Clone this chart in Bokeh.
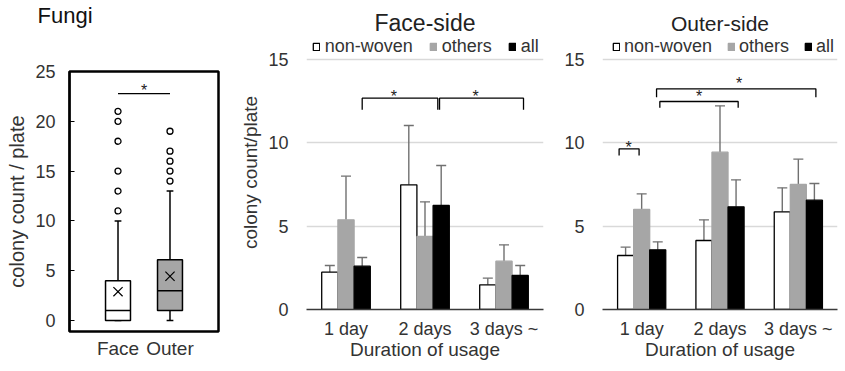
from bokeh.plotting import figure
from bokeh.layouts import row
from bokeh.models import (ColumnDataSource, FixedTicker, Range1d, Legend, LegendItem,
                          Whisker, TeeHead, Title)
from bokeh.embed import file_html
from bokeh.resources import INLINE
from bokeh.core.properties import value

FONT = "Liberation Sans"
TXT = "#333333"
GRAY = "#A6A6A6"
H = 371

# ---------------- data ----------------
# Fungi box plot (colony count / plate)
box_groups = ["Face", "Outer"]
box_pos = [1, 2]
box_low = [0, 0]
box_q1 = [0, 1]
box_median = [1, 3]
box_q3 = [4, 6.1]
box_high = [10, 13]
box_mean = [2.9, 4.45]
face_outliers = [11, 13, 15, 18, 20, 21]
outer_outliers = [14, 15, 16, 17, 19]
box_ticks = [0, 5, 10, 15, 20, 25]

# Bar charts: mean colony count/plate with upper SD
durations = ["1 day", "2 days", "3 days ~"]
materials = ["non-woven", "others", "all"]
bar_ticks = [0, 5, 10, 15]

face_nonwoven = [2.24, 7.48, 1.48]
face_nonwoven_sd = [0.40, 3.56, 0.40]
face_others = [5.38, 4.38, 2.90]
face_others_sd = [2.62, 2.08, 0.98]
face_all = [2.60, 6.24, 2.04]
face_all_sd = [0.52, 2.40, 0.60]

outer_nonwoven = [3.24, 4.14, 5.86]
outer_nonwoven_sd = [0.50, 1.24, 1.44]
outer_others = [6.00, 9.44, 7.50]
outer_others_sd = [0.94, 2.78, 1.52]
outer_all = [3.58, 6.16, 6.56]
outer_all_sd = [0.48, 1.62, 1.00]

# significance brackets: x left, x right, top y, leg end y ; star position
face_br_x0 = [0.705, 1.684]
face_br_x1 = [1.662, 2.747]
face_br_top = [12.68, 12.68]
face_br_leg = [11.98, 11.98]
face_star_x = [1.105, 2.14]
face_star_y = [13.04, 13.04]

outer_br_x0 = [0.212, 0.732, 0.69]
outer_br_x1 = [0.467, 1.732, 2.724]
outer_br_top = [9.64, 12.48, 13.24]
outer_br_leg = [9.24, 12.10, 12.74]
outer_star_x = [0.332, 1.234, 1.745]
outer_star_y = [9.98, 13.0, 13.78]

box_sig_x = [1, 2]
box_sig_y = 22.77
box_star_y = 23.5


def no_align(p):
    try:
        p.frame_align = False
    except Exception:
        pass


# ---------------- box plot ----------------
p1 = figure(width=222, height=H, x_range=Range1d(0.067, 2.933), y_range=Range1d(-1.1, 25),
            output_backend="svg", toolbar_location=None, title=None,
            min_border_left=69, min_border_right=4, min_border_top=67, min_border_bottom=H - 331)
no_align(p1)
p1.outline_line_color = "black"
p1.outline_line_width = 2.5
p1.grid.visible = False

bw = 0.48
bsrc = ColumnDataSource(dict(x=box_pos, q1=box_q1, q3=box_q3, med=box_median, lo=box_low,
                             hi=box_high, mean=box_mean, fill=["white", GRAY],
                             xl=[v - bw / 2 for v in box_pos], xr=[v + bw / 2 for v in box_pos],
                             cl=[v - 0.065 for v in box_pos], cr=[v + 0.065 for v in box_pos]))
p1.segment(x0="x", x1="x", y0="q3", y1="hi", source=bsrc, line_color="black", line_width=1.5)
p1.segment(x0="x", x1="x", y0="lo", y1="q1", source=bsrc, line_color="black", line_width=1.5)
p1.segment(x0="cl", x1="cr", y0="hi", y1="hi", source=bsrc, line_color="black", line_width=1.5)
p1.segment(x0="cl", x1="cr", y0="lo", y1="lo", source=bsrc, line_color="black", line_width=1.5)
p1.vbar(x="x", bottom="q1", top="q3", width=bw, fill_color="fill", line_color="black",
        line_width=1.5, source=bsrc)
p1.segment(x0="xl", x1="xr", y0="med", y1="med", source=bsrc, line_color="black", line_width=1.5)
p1.scatter(x="x", y="mean", source=bsrc, marker="x", size=13, line_color="black", line_width=1.2)
p1.scatter(x=[box_pos[0]] * len(face_outliers), y=face_outliers, marker="circle", size=6,
           fill_color="white", line_color="black", line_width=1.3)
p1.scatter(x=[box_pos[1]] * len(outer_outliers), y=outer_outliers, marker="circle", size=6,
           fill_color="white", line_color="black", line_width=1.3)
p1.segment(x0=[box_sig_x[0]], x1=[box_sig_x[1]], y0=[box_sig_y], y1=[box_sig_y],
           line_color="black", line_width=1.3)
p1.text(x=[sum(box_sig_x) / 2], y=[box_star_y], text=["*"], text_align="center",
        text_baseline="middle", y_offset=4, text_font=value(FONT), text_font_size="16px",
        text_color="#222222")

p1.yaxis.ticker = FixedTicker(ticks=box_ticks)
p1.yaxis.major_tick_in = 5
p1.yaxis.major_tick_out = 0
p1.yaxis.minor_tick_line_color = None
p1.yaxis.axis_line_color = "black"
p1.yaxis.axis_line_width = 2
p1.yaxis.major_label_standoff = 14
p1.yaxis.axis_label = "colony count / plate"
p1.yaxis.axis_label_standoff = 4
p1.xaxis.ticker = FixedTicker(ticks=box_pos)
p1.xaxis.major_label_overrides = {box_pos[i]: box_groups[i] for i in range(2)}
p1.xaxis.major_tick_in = 0
p1.xaxis.major_tick_out = 0
p1.xaxis.minor_tick_line_color = None
p1.xaxis.axis_line_color = None
p1.xaxis.major_label_standoff = 6
for ax in [p1.xaxis, p1.yaxis]:
    ax.major_label_text_font = FONT
    ax.major_label_text_color = TXT
    ax.axis_label_text_font = FONT
    ax.axis_label_text_font_style = "normal"
    ax.axis_label_text_color = TXT
p1.yaxis.major_label_text_font_size = "18px"
p1.xaxis.major_label_text_font_size = "19px"
p1.yaxis.axis_label_text_font_size = "20px"

# spacer (closest to the frame) then the panel heading above it
p1.add_layout(Title(text=" ", text_font_size="12px", standoff=28), "above")
p1.add_layout(Title(text="Fungi", align="left", offset=-32, standoff=0, text_font=FONT,
                    text_font_size="22px", text_font_style="normal", text_color="#111111"),
              "above")


# ---------------- bar panels ----------------
def bar_panel(title, title_size, title_standoff, means, sds, width, left, right, ylabel,
              legend_x, legend_spacing, legend_standoff, br_x0, br_x1, br_top, br_leg,
              star_x, star_y):
    top_px, bottom_px = 35, 309
    frame_h = bottom_px - top_px
    p = figure(width=width, height=H, x_range=Range1d(0, 3), y_range=Range1d(0, frame_h / 16.667),
               output_backend="svg", toolbar_location=None,
               min_border_left=left, min_border_right=right, min_border_top=top_px,
               min_border_bottom=H - bottom_px)
    no_align(p)
    p.outline_line_color = None
    p.xgrid.visible = False
    p.ygrid.ticker = FixedTicker(ticks=bar_ticks[1:])
    p.ygrid.grid_line_color = "#D9D9D9"
    p.ygrid.grid_line_width = 1.5

    offsets = [-0.205, 0.0, 0.205]
    fills = ["white", GRAY, "black"]
    lines = ["black", GRAY, "black"]
    items = []
    centers = [i + 0.5 for i in range(len(durations))]
    for k in range(3):
        xs = [c + offsets[k] for c in centers]
        src = ColumnDataSource(dict(x=xs, top=means[k],
                                    upper=[m + s for m, s in zip(means[k], sds[k])]))
        r = p.vbar(x="x", top="top", bottom=0, width=0.205, fill_color=fills[k],
                   line_color=lines[k], line_width=1.3, source=src)
        items.append(LegendItem(label=materials[k], renderers=[r]))
        p.add_layout(Whisker(base="x", upper="upper", lower="top", source=src,
                             line_color="#707070", line_width=1.4, lower_head=None,
                             upper_head=TeeHead(size=10, line_color="#707070", line_width=1.4)))

    xs_b, ys_b = [], []
    for a, b, t, l in zip(br_x0, br_x1, br_top, br_leg):
        xs_b.append([a, a, b, b])
        ys_b.append([l, t, t, l])
    p.multi_line(xs=xs_b, ys=ys_b, line_color="black", line_width=1.3)
    p.text(x=star_x, y=star_y, text=["*"] * len(star_x), text_align="center",
           text_baseline="middle", y_offset=4, text_font=value(FONT), text_font_size="16px",
           text_color="#222222")

    legend = Legend(items=items, orientation="horizontal",
                    location=(legend_x, frame_h - 1.5 - 20),
                    glyph_width=8, glyph_height=9, label_standoff=legend_standoff,
                    spacing=legend_spacing,
                    padding=0, margin=0, background_fill_alpha=0, border_line_color=None,
                    label_text_font=FONT, label_text_font_size="18px", label_text_color=TXT,
                    label_height=20)
    p.add_layout(legend)

    p.title.text = title
    p.title.align = "center"
    p.title.text_font = FONT
    p.title.text_font_size = title_size
    p.title.text_font_style = "normal"
    p.title.text_color = "#222222"
    p.title.standoff = title_standoff

    p.xaxis.ticker = FixedTicker(ticks=centers)
    p.xaxis.major_label_overrides = {centers[i]: durations[i] for i in range(3)}
    p.xaxis.major_tick_in = 0
    p.xaxis.major_tick_out = 0
    p.xaxis.minor_tick_line_color = None
    p.xaxis.axis_line_color = "#3A3A3A"
    p.xaxis.axis_line_width = 1.5
    p.xaxis.major_label_standoff = 9
    p.xaxis.axis_label = "Duration of usage"
    p.xaxis.axis_label_standoff = -3

    p.yaxis.ticker = FixedTicker(ticks=bar_ticks)
    p.yaxis.major_tick_in = 0
    p.yaxis.major_tick_out = 0
    p.yaxis.minor_tick_line_color = None
    p.yaxis.axis_line_color = None
    p.yaxis.major_label_standoff = 18
    if ylabel:
        p.yaxis.axis_label = ylabel
        p.yaxis.axis_label_standoff = 4
    for ax in [p.xaxis, p.yaxis]:
        ax.major_label_text_font = FONT
        ax.major_label_text_font_size = "18px"
        ax.major_label_text_color = TXT
        ax.axis_label_text_font = FONT
        ax.axis_label_text_font_size = "19px"
        ax.axis_label_text_font_style = "normal"
        ax.axis_label_text_color = TXT
    return p


p2 = bar_panel("Face-side", "23px", 0,
               [face_nonwoven, face_others, face_all],
               [face_nonwoven_sd, face_others_sd, face_all_sd],
               323, 84, 2, "colony count/plate", 5.7, 16, 5,
               face_br_x0, face_br_x1, face_br_top, face_br_leg, face_star_x, face_star_y)
p3 = bar_panel("Outer-side", "21px", 1,
               [outer_nonwoven, outer_others, outer_all],
               [outer_nonwoven_sd, outer_others_sd, outer_all_sd],
               300, 57, 8, None, 10, 15, 4,
               outer_br_x0, outer_br_x1, outer_br_top, outer_br_leg, outer_star_x, outer_star_y)

layout = row(p1, p2, p3)
open("out.html", "w").write(file_html(layout, INLINE))
